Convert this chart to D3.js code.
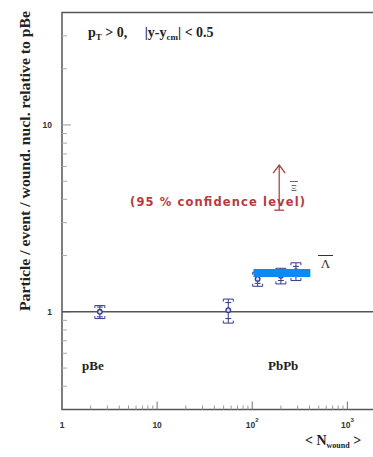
<!DOCTYPE html>
<html>
<head>
<meta charset="utf-8">
<title>Ratio vs wounded nucleons</title>
<script src="https://cdn.jsdelivr.net/npm/d3@7"></script>
<style>
	*{ margin:0; padding:0; }
	body{ background:#fff; }
	svg{ display:block; }
</style>
</head>
<body>
<div id="chart"></div>
<script>
// values
var systems = ["pBe", "PbPb", "PbPb", "PbPb", "PbPb"];
var nWound  = [2.5, 56, 114, 200, 288];
var ratio   = [1.0, 1.02, 1.50, 1.56, 1.65];
var statErr = [0.06, 0.10, 0.08, 0.09, 0.10];
var systErr = [0.08, 0.15, 0.13, 0.15, 0.18];

// 95% CL upper limit (Xi-bar)
var limitN = [192];
var limitRange = [3.5, 6.1];

var xTicks = [1, 10, 100, 1000];
var xTickLabels = ["1", "10", "10", "10"];
var xTickSup = ["", "", "2", "3"];
var yTicks = [1, 10];
var yTickLabels = ["1", "10"];

// blue block painted on the original
var maskX = [103, 408];
var maskY = [1.535, 1.695];

var W = 373, H = 457;
var mLeft = 62, mTop = 12.5, mBottom = 409.5, mRight = 376;

var svg = d3.select("#chart").append("svg")
	.attr("width", W).attr("height", H);

var x = d3.scaleLog().domain([1, 2000]).range([mLeft, mRight]);
var y = d3.scaleLog().domain([0.3, 40]).range([mBottom, mTop]);

var axisCol = "#555";
var serif = "'Liberation Serif', 'DejaVu Serif', serif";
var sans = "'Liberation Sans', Arial, sans-serif";

// frame
svg.append("rect")
	.attr("x", mLeft).attr("y", mTop)
	.attr("width", mRight - mLeft).attr("height", mBottom - mTop)
	.attr("fill", "none").attr("stroke", axisCol).attr("stroke-width", 1.5);

// minor / major ticks, pointing inwards
var xMinor = [];
for (var d = 1; d < 2000; d *= 10)
	for (var k = 2; k <= 9; k++) if (d * k < 2000) xMinor.push(d * k);
svg.selectAll(".xminor").data(xMinor).enter().append("line")
	.attr("x1", function(v){ return x(v); }).attr("x2", function(v){ return x(v); })
	.attr("y1", mBottom).attr("y2", mBottom - 4)
	.attr("stroke", "#999").attr("stroke-width", 1);
svg.selectAll(".xmajor").data(xTicks).enter().append("line")
	.attr("x1", function(v){ return x(v); }).attr("x2", function(v){ return x(v); })
	.attr("y1", mBottom).attr("y2", mBottom - 8)
	.attr("stroke", "#777").attr("stroke-width", 1);

var yMinor = [0.4, 0.5, 0.6, 0.7, 0.8, 0.9, 2, 3, 4, 5, 6, 7, 8, 9, 20, 30];
svg.selectAll(".yminor").data(yMinor).enter().append("line")
	.attr("x1", mLeft).attr("x2", mLeft + 5)
	.attr("y1", function(v){ return y(v); }).attr("y2", function(v){ return y(v); })
	.attr("stroke", "#aaa").attr("stroke-width", 1);
svg.selectAll(".ymajor").data(yTicks).enter().append("line")
	.attr("x1", mLeft).attr("x2", mLeft + 9)
	.attr("y1", function(v){ return y(v); }).attr("y2", function(v){ return y(v); })
	.attr("stroke", "#999").attr("stroke-width", 1);

// tick labels
var xl = svg.selectAll(".xlab").data(xTicks).enter().append("text")
	.attr("x", function(v){ return x(v); }).attr("y", 428)
	.attr("text-anchor", "middle")
	.attr("font-family", sans).attr("font-weight", "bold").attr("font-size", 8.5)
	.attr("fill", "#333");
xl.append("tspan").text(function(v, i){ return xTickLabels[i]; });
xl.append("tspan").attr("dy", -6).attr("font-size", 6)
	.text(function(v, i){ return xTickSup[i]; });

svg.selectAll(".ylab").data(yTicks).enter().append("text")
	.attr("x", mLeft - 10).attr("y", function(v){ return y(v) + 3; })
	.attr("text-anchor", "end")
	.attr("font-family", sans).attr("font-weight", "bold").attr("font-size", 8.5)
	.attr("fill", "#333")
	.text(function(v, i){ return yTickLabels[i]; });

// reference line at 1
svg.append("line")
	.attr("x1", mLeft).attr("x2", mRight)
	.attr("y1", y(1)).attr("y2", y(1))
	.attr("stroke", axisCol).attr("stroke-width", 1.5);

// data points
var blue = "#343a8c";
var pts = nWound.map(function(n, i){
	return {n: n, r: ratio[i], s: statErr[i], e: systErr[i]};
});
var g = svg.append("g");
pts.forEach(function(p){
	var px = x(p.n);
	g.append("line")
		.attr("x1", px).attr("x2", px)
		.attr("y1", y(p.r + p.e)).attr("y2", y(p.r - p.e))
		.attr("stroke", blue).attr("stroke-width", 1);
	// stat caps
	[p.r + p.s, p.r - p.s].forEach(function(v){
		g.append("line")
			.attr("x1", px - 3).attr("x2", px + 3)
			.attr("y1", y(v)).attr("y2", y(v))
			.attr("stroke", blue).attr("stroke-width", 1);
	});
	// syst brackets
	[[p.r + p.e, 1], [p.r - p.e, -1]].forEach(function(b){
		var yy = y(b[0]);
		g.append("path")
			.attr("d", "M" + (px - 5) + "," + (yy + 2.5 * b[1]) + "V" + yy + "H" + (px + 5) + "V" + (yy + 2.5 * b[1]))
			.attr("fill", "none").attr("stroke", blue).attr("stroke-width", 1);
	});
	g.append("circle")
		.attr("cx", px).attr("cy", y(p.r)).attr("r", 2.3)
		.attr("fill", "#dde").attr("stroke", blue).attr("stroke-width", 1.3);
});

// upper limit arrow
var red = "#a8343c";
var ax = x(limitN[0]);
svg.append("line")
	.attr("x1", ax).attr("x2", ax)
	.attr("y1", y(limitRange[0])).attr("y2", y(limitRange[1]))
	.attr("stroke", red).attr("stroke-width", 1.2);
svg.append("line")
	.attr("x1", ax - 5).attr("x2", ax + 5)
	.attr("y1", y(limitRange[0])).attr("y2", y(limitRange[0]))
	.attr("stroke", red).attr("stroke-width", 1.2);
svg.append("path")
	.attr("d", "M" + (ax - 6) + "," + (y(limitRange[1]) + 8) + "L" + ax + "," + y(limitRange[1]) + "L" + (ax + 6) + "," + (y(limitRange[1]) + 8))
	.attr("fill", "none").attr("stroke", red).attr("stroke-width", 1.2);

svg.append("text")
	.attr("x", 130).attr("y", 206)
	.attr("font-family", "'DejaVu Sans', sans-serif").attr("font-weight", "bold").attr("font-size", 11.5)
	.attr("fill", "#b83a3e")
	.attr("textLength", 175).attr("lengthAdjust", "spacing")
	.text("(95 % confidence level)");

// particle labels
svg.append("line")
	.attr("x1", 290).attr("x2", 298).attr("y1", 181.5).attr("y2", 181.5)
	.attr("stroke", "#444").attr("stroke-width", 0.8);
svg.append("text")
	.attr("x", 294).attr("y", 191)
	.attr("text-anchor", "middle")
	.attr("font-family", serif).attr("font-size", 9)
	.attr("fill", "#444")
	.text("Ξ");
svg.append("line")
	.attr("x1", 318).attr("x2", 333).attr("y1", 255.5).attr("y2", 255.5)
	.attr("stroke", "#333").attr("stroke-width", 1);
svg.append("text")
	.attr("x", 325.5).attr("y", 268)
	.attr("text-anchor", "middle")
	.attr("font-family", serif).attr("font-size", 13)
	.attr("fill", "#333")
	.text("Λ");

// system labels
svg.append("text").attr("x", 82).attr("y", 370)
	.attr("font-family", serif).attr("font-weight", "bold").attr("font-size", 13)
	.attr("fill", "#222").text("pBe");
svg.append("text").attr("x", 268).attr("y", 370)
	.attr("font-family", serif).attr("font-weight", "bold").attr("font-size", 13)
	.attr("fill", "#222").text("PbPb");

// cut annotation
var cut = svg.append("text").attr("x", 88).attr("y", 37)
	.attr("font-family", serif).attr("font-weight", "bold").attr("font-size", 14)
	.attr("fill", "#222").attr("xml:space", "preserve");
cut.append("tspan").text("p");
cut.append("tspan").attr("dy", 3).attr("font-size", 9).text("T");
cut.append("tspan").attr("dy", -3).text(" > 0,     |y-y");
cut.append("tspan").attr("dy", 3).attr("font-size", 9).text("cm");
cut.append("tspan").attr("dy", -3).text("| < 0.5");

// axis titles
svg.append("text")
	.attr("transform", "translate(30,161) rotate(-90)")
	.attr("text-anchor", "middle")
	.attr("font-family", serif).attr("font-weight", "bold").attr("font-size", 14)
	.attr("fill", "#222")
	.attr("textLength", 300).attr("lengthAdjust", "spacingAndGlyphs")
	.text("Particle / event / wound. nucl. relative to pBe");

var xt = svg.append("text").attr("x", 305).attr("y", 445)
	.attr("font-family", serif).attr("font-weight", "bold").attr("font-size", 14)
	.attr("fill", "#222");
xt.append("tspan").text("< N");
xt.append("tspan").attr("dy", 3).attr("font-size", 8).text("wound");
xt.append("tspan").attr("dy", -3).text(" >");

// the blue block
svg.append("rect")
	.attr("x", x(maskX[0])).attr("y", y(maskY[1]))
	.attr("width", x(maskX[1]) - x(maskX[0]))
	.attr("height", y(maskY[0]) - y(maskY[1]))
	.attr("fill", "#0a8af2");
</script>
</body>
</html>
